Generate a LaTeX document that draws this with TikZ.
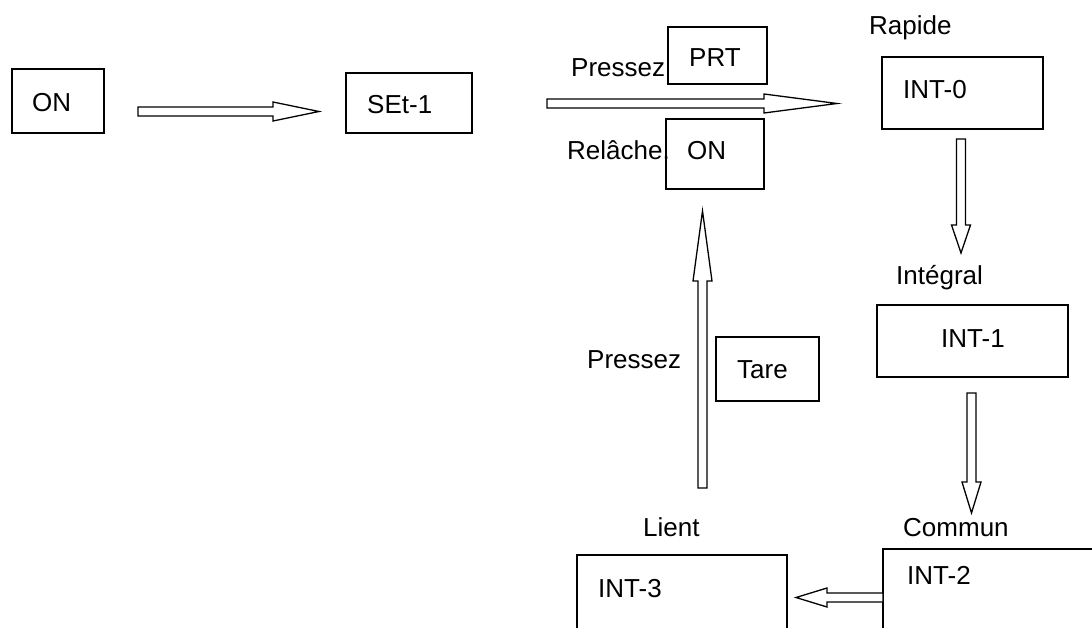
\documentclass[tikz,border=0pt]{standalone}
\usepackage{fontspec}
\setmainfont{Liberation Sans}
\usetikzlibrary{calc,fit}

\tikzset{
  box/.style={draw,line width=1.6pt,inner sep=0pt},
  txt/.style={inner sep=0pt,anchor=base west},
  hollow/.style={line width=1.3pt,fill=white,to path={
    let \p1=($(\tikztotarget)!#1!(\tikztostart)$) in
    ($(\tikztostart)!4.5pt!90:(\tikztotarget)$) -- ($(\p1)!4.5pt!90:(\tikztotarget)$)
    -- ($(\p1)!9.5pt!90:(\tikztotarget)$) -- (\tikztotarget)
    -- ($(\p1)!9.5pt!-90:(\tikztotarget)$) -- ($(\p1)!4.5pt!-90:(\tikztotarget)$)
    -- ($(\tikztostart)!4.5pt!-90:(\tikztotarget)$) -- cycle}}
}

\begin{document}
\begin{tikzpicture}[x=1pt,y=-1pt,font=\fontsize{26}{31}\selectfont]
  \useasboundingbox (0,0) rectangle (1092,628);
  \clip (0,0) rectangle (1092,628);
  \fill[white] (0,0) rectangle (1092,628);
  % labels
  \foreach \n/\x/\y/\t in {lPress/571/77/Pressez,lRel/567/160/Relâche.,lRap/869/35/Rapide,
      lInt/896/285/Intégral,lCom/903/536/Commun,lLient/643/536/Lient,lTare/587/368/Pressez}
    \node[txt] (\n) at (\x,\y) {\t};
  % boxes
  \foreach \n/\xa/\ya/\xb/\yb in {on/12/69/104/133,set/346/73/472/133,prt/668/27/767/84,
      onb/666/119/764/189,int0/882/57/1043/129,int1/877/305/1068/377,
      int2/883/549/1120/660,int3/577/555/787/660,tare/716/337/819/401}
    \node[box,fit={(\xa,\ya) (\xb,\yb)}] (\n) {};
  \foreach \n/\x/\y/\t in {tOn/32/112/ON,tSet/367/114/SEt-1,tPrt/689/67/PRT,tOnb/687/160/ON,
      tInt0/903/99/INT-0,tInt1/941/347/INT-1,tInt2/907/584/INT-2,tInt3/598/597/INT-3,
      tTare/737/378/Tare}
    \node[txt] (\n) at (\x,\y) {\t};
  % arrows
  \coordinate (a1s) at (138,111.5);   \coordinate (a1e) at (319,111.5);
  \coordinate (a2s) at (547,103.5);   \coordinate (a2e) at (837,103.5);
  \coordinate (a3s) at (961,139);     \coordinate (a3e) at (961,253);
  \coordinate (a4s) at (971.5,393);   \coordinate (a4e) at (971.5,513);
  \coordinate (a5s) at (883,597.5);   \coordinate (a5e) at (796,597.5);
  \coordinate (a6s) at (702.5,488);   \coordinate (a6e) at (702.5,211);
  \foreach \s/\e/\l in {a1s/a1e/46pt,a2s/a2e/73pt,a3s/a3e/28pt,a4s/a4e/31pt,a5s/a5e/31pt,a6s/a6e/70pt}
    \draw[hollow=\l] (\s) to (\e);
\end{tikzpicture}
\end{document}
